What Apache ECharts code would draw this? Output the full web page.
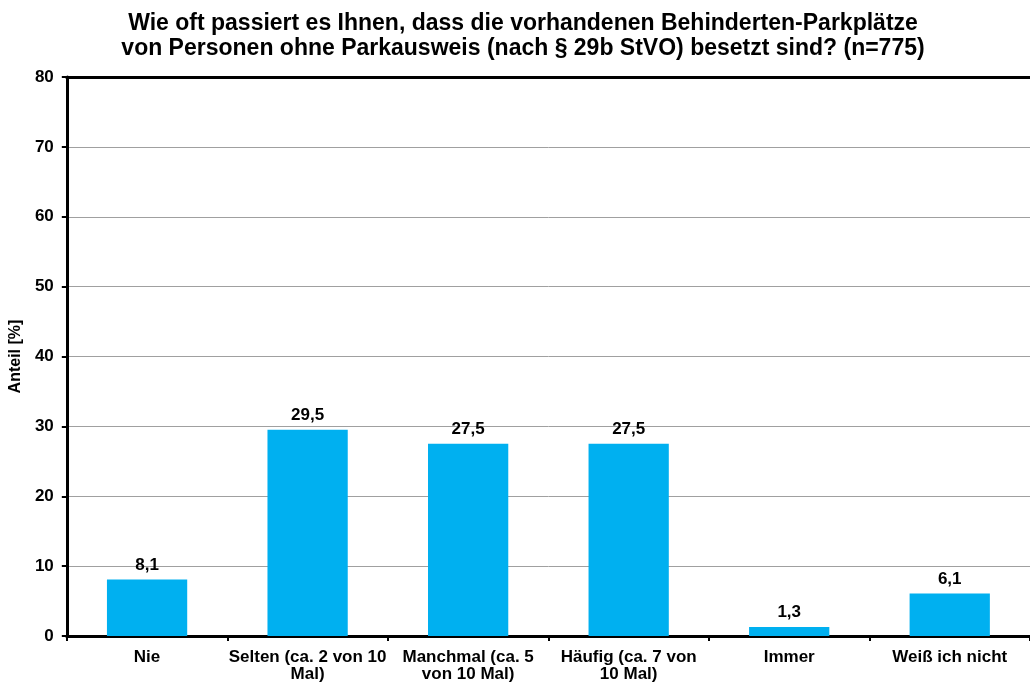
<!DOCTYPE html>
<html>
<head>
<meta charset="utf-8">
<script src="https://cdn.jsdelivr.net/npm/echarts@6/dist/echarts.min.js"></script>
<style>
  html, body { margin: 0; padding: 0; background: #fff; }
  #chart { width: 1030px; height: 686px; }
</style>
</head>
<body>
<div id="chart"></div>
<script>
// categories and values
var categories = [
    'Nie',
    'Selten (ca. 2 von 10\nMal)',
    'Manchmal (ca. 5\nvon 10 Mal)',
    'Häufig (ca. 7 von\n10 Mal)',
    'Immer',
    'Weiß ich nicht'
];
var shares = [8.1, 29.5, 27.5, 27.5, 1.3, 6.1];

var myChart = echarts.init(document.getElementById('chart'));
var font = 'Liberation Sans, Arial, sans-serif';

option = {
    backgroundColor: '#fff',
    title: {
        text: 'Wie oft passiert es Ihnen, dass die vorhandenen Behinderten-Parkplätze\nvon Personen ohne Parkausweis (nach § 29b StVO) besetzt sind? (n=775)',
        left: 518,
        textAlign: 'center',
        top: 6,
        textStyle: {
            fontFamily: font,
            fontSize: 23,
            fontWeight: 'bold',
            color: '#000',
            lineHeight: 25
        }
    },
    grid: {
        left: 65,
        right: -9,
        top: 77,
        bottom: 50
    },
    xAxis: [{
        type: 'category',
        data: categories,
        axisLine: { lineStyle: { color: '#000', width: 3 } },
        axisTick: { show: true, length: 5, lineStyle: { color: '#000', width: 2 } },
        axisLabel: {
            fontFamily: font,
            fontSize: 17,
            fontWeight: 'bold',
            color: '#000',
            margin: 13,
            lineHeight: 17,
            interval: 0
        }
    }, {
        type: 'category',
        position: 'top',
        data: categories,
        axisLine: { lineStyle: { color: '#000', width: 3 } },
        axisTick: { show: false },
        axisLabel: { show: false }
    }],
    yAxis: {
        type: 'value',
        min: 0,
        max: 80,
        interval: 10,
        name: 'Anteil [%]',
        nameLocation: 'middle',
        nameGap: 39,
        nameTextStyle: {
            fontFamily: font,
            fontSize: 16,
            fontWeight: 'bold',
            color: '#000'
        },
        axisLine: { show: true, lineStyle: { color: '#000', width: 3 } },
        axisTick: { show: true, length: 5, lineStyle: { color: '#000', width: 2 } },
        axisLabel: {
            fontFamily: font,
            fontSize: 17,
            fontWeight: 'bold',
            color: '#000',
            margin: 13
        },
        splitLine: { lineStyle: { color: '#a0a0a0', width: 1 } }
    },
    series: [{
        type: 'bar',
        data: shares,
        barWidth: '50%',
        itemStyle: { color: '#00B0F0' },
        label: {
            show: true,
            position: 'top',
            distance: 6,
            fontFamily: font,
            fontSize: 17,
            fontWeight: 'bold',
            color: '#000',
            formatter: function (p) { return String(p.value).replace('.', ','); }
        }
    }]
};

myChart.setOption(option);
</script>
</body>
</html>
